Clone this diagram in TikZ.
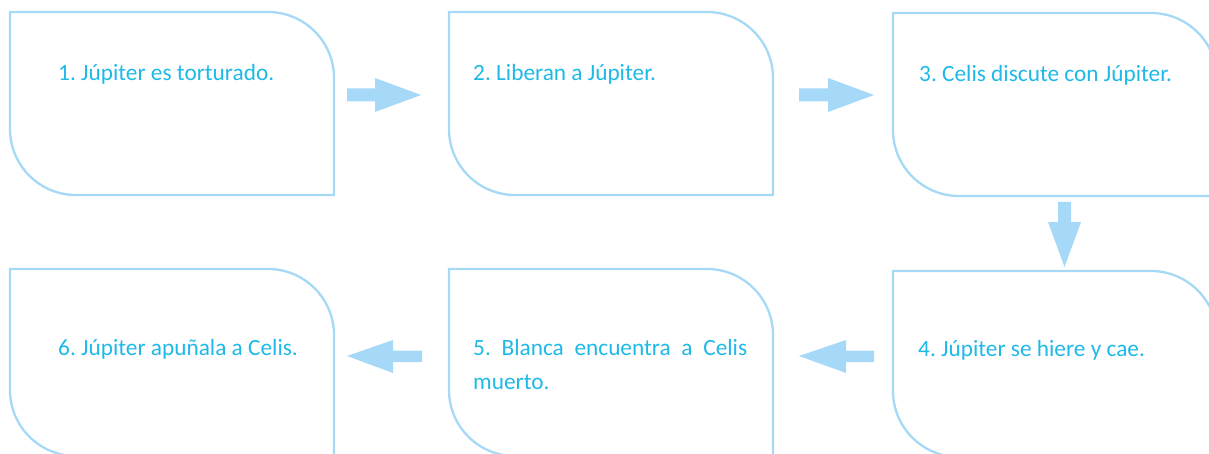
\documentclass[tikz,border=0pt]{standalone}
\usepackage{fontspec}
\setmainfont{Carlito}
\frenchspacing
\definecolor{txtcyan}{HTML}{1FB9E8}
\definecolor{linecol}{HTML}{A6D9F5}
\definecolor{arrowcol}{HTML}{A6D9F7}
\tikzset{
  boxline/.style={draw=linecol, line width=2.3pt},
  label/.style={anchor=base west, inner sep=0pt, text=txtcyan, font=\fontsize{23.3}{34}\selectfont},
  barrow/.style={fill=arrowcol, draw=none}
}
% #1 left, #2 top, #3 straight part of the sides
\newcommand\cardbox[3]{%
  \draw[boxline] (#1,#2) -- ++(258,0) arc[start angle=90,end angle=0,radius=66]
    -- ++(0,-#3) -- ++(-258,0) arc[start angle=270,end angle=180,radius=66] -- cycle;}
\begin{document}
\begin{tikzpicture}[x=1pt,y=1pt]
\useasboundingbox (0,0) rectangle (1209,453);
\clip (0,0) rectangle (1209,453);
% boxes (row 1)
\cardbox{10}{441}{117}
\cardbox{449}{441}{117}
\cardbox{893}{440}{117}
% boxes (row 2)
\cardbox{893}{182}{120}
\cardbox{449}{184}{121}
\cardbox{10}{184}{121}
% texts
\node[label] (t1) at (58,372) {1. Júpiter es torturado.};
\node[label] (t2) at (473,372) {2. Liberan a Júpiter.};
\node[label] (t3) at (919,371) {3. Celis discute con Júpiter.};
\node[label] (t4) at (918,97) {4. Júpiter se hiere y cae.};
\node[label, align=left] (t5) at (473,64) {\makebox[274pt][s]{5. Blanca encuentra a Celis}\\muerto.};
\node[label] (t6) at (58,98) {6. Júpiter apuñala a Celis.};
% block arrows
\fill[barrow] (347,364.5) -- (375,364.5) -- (375,375) -- (421,358) -- (375,341) -- (375,351.5) -- (347,351.5) -- cycle;
\fill[barrow] (799,364.5) -- (828,364.5) -- (828,375) -- (874,358) -- (828,341) -- (828,351.5) -- (799,351.5) -- cycle;
\fill[barrow] (1058,251) -- (1058,231) -- (1048,231) -- (1064.5,186) -- (1081,231) -- (1071,231) -- (1071,251) -- cycle;
\fill[barrow] (874,102.5) -- (846,102.5) -- (846,113) -- (799,97) -- (846,80) -- (846,91) -- (874,91) -- cycle;
\fill[barrow] (422,102.5) -- (393,102.5) -- (393,113) -- (347,97) -- (393,80) -- (393,91) -- (422,91) -- cycle;
\end{tikzpicture}
\end{document}
